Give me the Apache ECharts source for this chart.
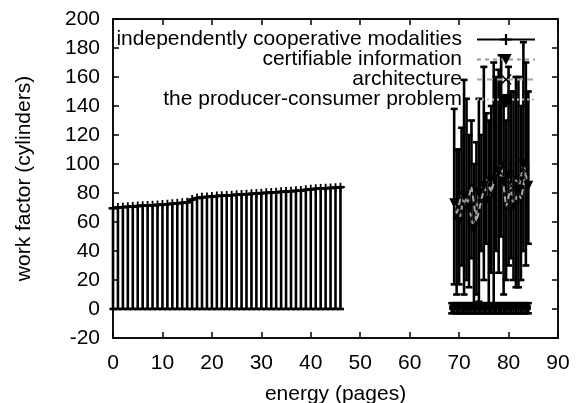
<!DOCTYPE html>
<html>
<head>
<meta charset="utf-8">
<script src="https://cdn.jsdelivr.net/npm/echarts@6/dist/echarts.min.js"></script>
<style>
  html, body { margin: 0; padding: 0; background: #fff; overflow: hidden; }
  #chart { width: 581px; height: 403px; }
</style>
</head>
<body>
<div id="chart"></div>
<script>
const seriesNames = [
  'independently cooperative modalities',
  'certifiable information',
  'architecture',
  'the producer-consumer problem'
];

// series 1: bars from 0 up to value
const s1X = [0,1,2,3,4,5,6,7,8,9,10,11,12,13,14,15,16,17,18,19,20,21,22,23,24,25,26,27,28,29,30,31,32,33,34,35,36,37,38,39,40,41,42,43,44,45,46];
const s1Y = [69.5,70,70.2,70.5,70.7,71,71.2,71.4,71.6,71.8,72,72.3,72.6,72.9,73.2,73.6,75.5,76.5,77,77.3,77.6,77.9,78.1,78.3,78.5,78.8,79,79.2,79.4,79.6,79.9,80.1,80.3,80.5,80.8,81,81.2,81.5,81.7,82.2,82.6,82.9,83.1,83.3,83.5,83.7,84];
const s1Lo = [0,0,0,0,0,0,0,0,0,0,0,0,0,0,0,0,0,0,0,0,0,0,0,0,0,0,0,0,0,0,0,0,0,0,0,0,0,0,0,0,0,0,0,0,0,0,0];

// series 2
const s2X = [69,70,71,72,73,74,75,76,77,78,79,80,81,82,83,84];
const s2Y = [73,60,78,70,55,80,85,75,90,95,88,92,70,82,100,85];
const s2Lo = [17,17,10,15,2,5,20,2,2,25,10,30,20,15,40,45];
const s2Hi = [138,110,158,120,100,145,167,130,170,165,140,167,150,160,184,150];

// series 3
const s3X = [69.5,70.5,71.5,72.5,73.5,74.5,75.5,76.5,77.5,78.5,79.5,80.5,81.5,82.5,83.5];
const s3Y = [65,80,70,85,60,75,90,80,95,100,70,85,90,75,95];
const s3Lo = [10,30,20,35,10,40,45,25,40,50,20,35,15,20,30];
const s3Hi = [110,125,145,130,115,120,135,140,160,175,130,150,160,140,170];

// series 4: near zero
const s4X = [68.5,69,69.5,70,70.5,71,71.5,72,72.5,73,73.5,74,74.5,75,75.5,76,76.5,77,77.5,78,78.5,79,79.5,80,80.5,81,81.5,82,82.5,83,83.5,84];
const s4Y = [1,1,1,1,1,1,1,1,1,1,1,1,1,1,1,1,1,1,1,1,1,1,1,1,1,1,1,1,1,1,1,1];
const s4Lo = [-3,-3,-3,-3,-3,-3,-3,-3,-3,-3,-3,-3,-3,-3,-3,-3,-3,-3,-3,-3,-3,-3,-3,-3,-3,-3,-3,-3,-3,-3,-3,-3];
const s4Hi = [4,4,4,4,4,4,4,4,4,4,4,4,4,4,4,4,4,4,4,4,4,4,4,4,4,4,4,4,4,4,4,4];

const FONT = 'Liberation Sans, Arial, Helvetica, sans-serif';
const plus = 'path://M4,0H6V4H10V6H6V10H4V6H0V4H4Z';
const cross = 'path://M1,0L5,4L9,0L10,1L6,5L10,9L9,10L5,6L1,10L0,9L4,5L0,1Z';

const zip = (...arrs) => arrs[0].map((_, i) => arrs.map(a => a[i]));

function errRender(params, api) {
  const x = api.value(0), lo = api.value(1), hi = api.value(2);
  const top = api.coord([x, hi]);
  const bot = api.coord([x, lo]);
  const w = 3.5;
  const style = { stroke: '#000', lineWidth: 2.6 };
  return {
    type: 'group',
    children: [
      { type: 'line', shape: { x1: top[0], y1: top[1], x2: bot[0], y2: bot[1] }, style },
      { type: 'line', shape: { x1: top[0] - w, y1: top[1], x2: top[0] + w, y2: top[1] }, style },
      { type: 'line', shape: { x1: bot[0] - w, y1: bot[1], x2: bot[0] + w, y2: bot[1] }, style }
    ]
  };
}

function errSeries(id, xs, lo, hi) {
  return {
    id: id,
    type: 'custom',
    renderItem: errRender,
    encode: { x: 0, y: [1, 2] },
    data: zip(xs, lo, hi),
    silent: true,
    z: 3
  };
}

const chart = echarts.init(document.getElementById('chart'));

const axisCommon = {
  axisLine: { show: true, onZero: false, lineStyle: { color: '#000', width: 1.5 } },
  axisTick: { show: true, inside: true, length: 6, lineStyle: { color: '#000', width: 1.5 } },
  splitLine: { show: false }
};

chart.setOption({
  animation: false,
  backgroundColor: '#fff',
  grid: {
    left: 113, right: 23, top: 19, bottom: 65,
    show: true, borderColor: '#000', borderWidth: 1.5, backgroundColor: 'transparent',
    containLabel: false, outerBoundsMode: 'none'
  },
  legend: {
    data: seriesNames,
    orient: 'vertical',
    right: 40,
    top: 24,
    align: 'right',
    itemWidth: 58,
    itemHeight: 14,
    itemGap: -1,
    textStyle: { fontFamily: FONT, fontSize: 21, color: '#000', lineHeight: 14, padding: [0, 10, 0, 0] }
  },
  xAxis: [
    Object.assign({
      type: 'value', min: 0, max: 90, interval: 10, position: 'bottom',
      name: 'energy (pages)', nameLocation: 'middle', nameGap: 46,
      nameTextStyle: { fontFamily: FONT, fontSize: 21, color: '#000' },
      axisLabel: { fontFamily: FONT, fontSize: 21, color: '#000', margin: 15 }
    }, axisCommon),
    Object.assign({
      type: 'value', min: 0, max: 90, interval: 10, position: 'top',
      axisLabel: { show: false }
    }, axisCommon)
  ],
  yAxis: [
    Object.assign({
      type: 'value', min: -20, max: 200, interval: 20, position: 'left',
      name: 'work factor (cylinders)', nameLocation: 'middle', nameGap: 78,
      nameTextStyle: { fontFamily: FONT, fontSize: 21, color: '#000' },
      axisLabel: { fontFamily: FONT, fontSize: 21, color: '#000', margin: 13 }
    }, axisCommon),
    Object.assign({
      type: 'value', min: -20, max: 200, interval: 20, position: 'right',
      axisLabel: { show: false }
    }, axisCommon)
  ],
  series: [
    errSeries('e1', s1X, s1Lo, s1Y),
    errSeries('e2', s2X, s2Lo, s2Hi),
    errSeries('e3', s3X, s3Lo, s3Hi),
    errSeries('e4', s4X, s4Lo, s4Hi),
    {
      name: seriesNames[0], type: 'line', data: zip(s1X, s1Y),
      lineStyle: { color: '#000', width: 2.5 },
      itemStyle: { color: '#000' },
      symbol: plus, symbolSize: 9, showSymbol: true, z: 4
    },
    {
      name: seriesNames[1], type: 'line', data: zip(s2X, s2Y),
      lineStyle: { color: '#9a9a9a', width: 2, type: [4, 4] },
      itemStyle: { color: '#000' },
      symbol: 'triangle', symbolRotate: 180, symbolSize: 10, z: 4
    },
    {
      name: seriesNames[2], type: 'line', data: zip(s3X, s3Y),
      lineStyle: { color: '#a5a5a5', width: 2, type: [6, 4] },
      itemStyle: { color: '#000' },
      symbol: cross, symbolSize: 8, z: 4
    },
    {
      name: seriesNames[3], type: 'line', data: zip(s4X, s4Y),
      lineStyle: { color: '#bdbdbd', width: 2, type: [2, 3] },
      itemStyle: { color: '#000' },
      symbol: 'rect', symbolSize: 5, z: 4
    }
  ]
});
</script>
</body>
</html>
